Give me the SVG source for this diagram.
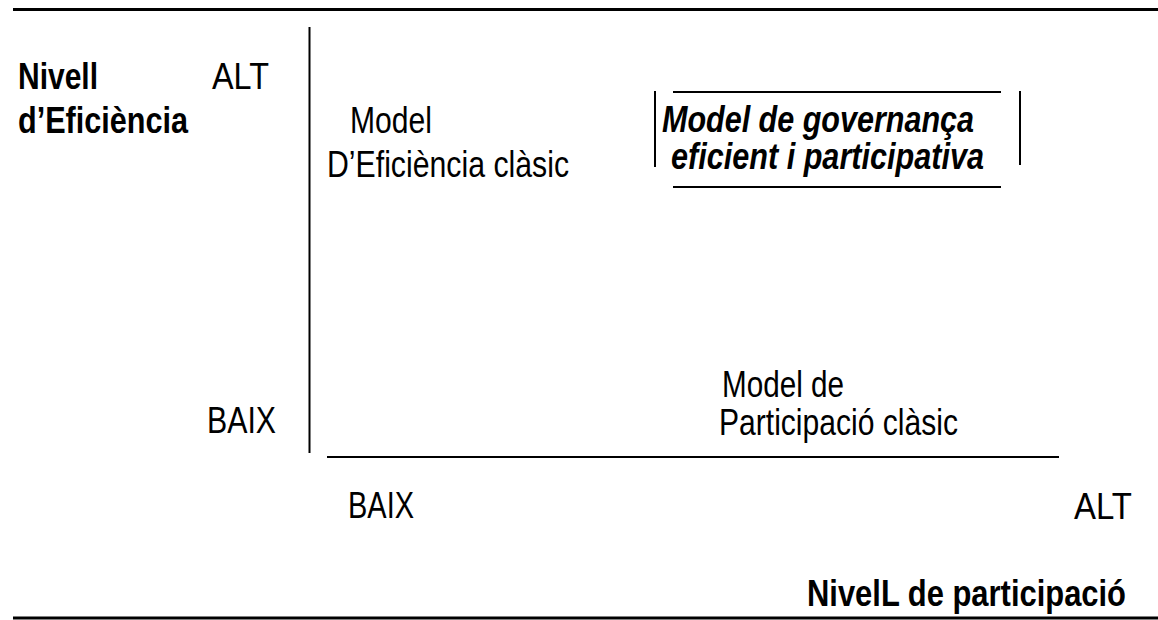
<svg xmlns="http://www.w3.org/2000/svg" width="1158" height="620" viewBox="0 0 1158 620">
<style>
text{font-family:"Liberation Sans",Arial,sans-serif;font-size:37px;fill:#000}
.b{font-weight:bold}
.bi{font-weight:bold;font-style:italic}
line{stroke:#000;fill:none}
</style>
<rect width="1158" height="620" fill="#fff"/>
<g id="connectors">
<line x1="13" y1="9.5" x2="1158" y2="9.5" stroke-width="3"/>
<line x1="13" y1="618" x2="1158" y2="618" stroke-width="3"/>
<line x1="309.5" y1="27" x2="309.5" y2="453" stroke-width="2"/>
<line x1="327" y1="457" x2="1059" y2="457" stroke-width="2"/>
</g>
<g id="y-axis-label">
<text class="b" x="18" y="89" textLength="80" lengthAdjust="spacingAndGlyphs">Nivell</text>
<text class="b" x="18" y="133" textLength="170" lengthAdjust="spacingAndGlyphs">d’Eficiència</text>
</g>
<g id="y-alt"><text x="212" y="89" textLength="57" lengthAdjust="spacingAndGlyphs">ALT</text></g>
<g id="y-baix"><text x="207" y="433" textLength="69" lengthAdjust="spacingAndGlyphs">BAIX</text></g>
<g id="model-eficiencia">
<text x="350" y="133" textLength="82" lengthAdjust="spacingAndGlyphs">Model</text>
<text x="327" y="177" textLength="242" lengthAdjust="spacingAndGlyphs">D’Eficiència clàsic</text>
</g>
<g id="model-governanca">
<line x1="673" y1="92" x2="1001" y2="92" stroke-width="2"/>
<line x1="673" y1="187" x2="1001" y2="187" stroke-width="2"/>
<line x1="655" y1="91" x2="655" y2="167" stroke-width="2"/>
<line x1="1020" y1="91" x2="1020" y2="165" stroke-width="2"/>
<text class="bi" x="662" y="132" textLength="312" lengthAdjust="spacingAndGlyphs">Model de governança</text>
<text class="bi" x="671" y="169" textLength="313" lengthAdjust="spacingAndGlyphs">eficient i participativa</text>
</g>
<g id="model-participacio">
<text x="722" y="397" textLength="122" lengthAdjust="spacingAndGlyphs">Model de</text>
<text x="719" y="435" textLength="239" lengthAdjust="spacingAndGlyphs">Participació clàsic</text>
</g>
<g id="x-baix"><text x="348" y="518" textLength="66" lengthAdjust="spacingAndGlyphs">BAIX</text></g>
<g id="x-alt"><text x="1074" y="519" textLength="58" lengthAdjust="spacingAndGlyphs">ALT</text></g>
<g id="x-axis-label"><text class="b" x="807" y="606" textLength="319" lengthAdjust="spacingAndGlyphs">NivelL de participació</text></g>
</svg>
